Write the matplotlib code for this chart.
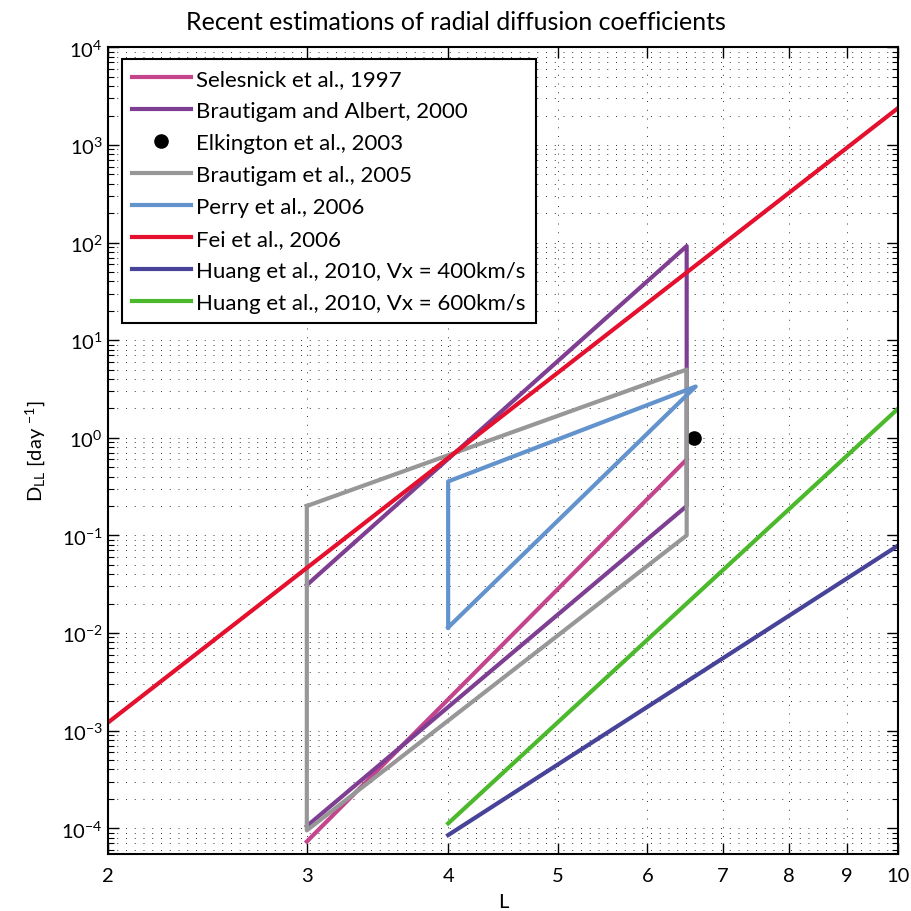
import numpy as np
import matplotlib
matplotlib.use("Agg")
import matplotlib.pyplot as plt
from matplotlib.ticker import FixedLocator, NullLocator, FixedFormatter, NullFormatter

plt.rcParams['font.family'] = ['Lato', 'DejaVu Sans']
plt.rcParams['mathtext.default'] = 'regular'

# series (L, D_LL in 1/day)
selesnick_L = [3.0, 6.5]
selesnick_D = [7.3e-5, 0.6]

albert_L = [3.0, 6.5, 6.5, 3.0]
albert_D = [0.031, 92.0, 0.2, 1.05e-4]

elkington_L = [6.6]
elkington_D = [1.0]

brautigam05_L = [3.0, 6.5, 6.5, 3.0, 3.0]
brautigam05_D = [0.2, 5.0, 0.1, 9.5e-5, 0.2]

perry_L = [4.0, 4.0, 6.62, 4.0]
perry_D = [0.0114, 0.357, 3.35, 0.0114]

fei_L = [2.0, 10.0]
fei_D = [1.2e-3, 2400.0]

huang400_L = [4.0, 10.0]
huang400_D = [8.5e-5, 0.079]

huang600_L = [4.0, 10.0]
huang600_D = [1.12e-4, 2.0]

x_ticks = [2, 3, 4, 5, 6, 7, 8, 9, 10]
y_exps = [-4, -3, -2, -1, 0, 1, 2, 3, 4]

y_lo, y_hi = 5.5e-5, 1e4

fig = plt.figure(figsize=(9.12, 9.12), dpi=100)
ax = fig.add_axes([0.118, 0.063, 0.867, 0.884])

lw = 3
ax.plot(selesnick_L, selesnick_D, color='#c4458c', lw=lw, label='Selesnick et al., 1997')
ax.plot(albert_L, albert_D, color='#7e3e92', lw=lw, label='Brautigam and Albert, 2000')
ax.plot(elkington_L, elkington_D, 'o', color='black', ms=9.5, label='Elkington et al., 2003')
ax.plot(brautigam05_L, brautigam05_D, color='#979797', lw=lw, label='Brautigam et al., 2005')
ax.plot(perry_L, perry_D, color='#6393cc', lw=lw, label='Perry et al., 2006')
ax.plot(fei_L, fei_D, color='#e4102e', lw=lw, label='Fei et al., 2006')
ax.plot(huang400_L, huang400_D, color='#474398', lw=lw, label='Huang et al., 2010, Vx = 400km/s')
ax.plot(huang600_L, huang600_D, color='#4cb92d', lw=lw, label='Huang et al., 2010, Vx = 600km/s')

ax.set_xscale('log')
ax.set_yscale('log')
ax.set_xlim(2, 10)
ax.set_ylim(y_lo, y_hi)

ax.xaxis.set_major_locator(FixedLocator(x_ticks))
ax.xaxis.set_major_formatter(FixedFormatter([str(t) for t in x_ticks]))
ax.xaxis.set_minor_locator(NullLocator())

y_major = [10.0 ** e for e in y_exps]
y_minor = [m * 10.0 ** e for e in range(-5, 4) for m in range(2, 10)]
y_minor = [v for v in y_minor if y_lo <= v <= y_hi]
ax.yaxis.set_major_locator(FixedLocator(y_major))
ax.yaxis.set_major_formatter(FixedFormatter(['$10^{%d}$' % e for e in y_exps]))
ax.yaxis.set_minor_locator(FixedLocator(y_minor))
ax.yaxis.set_minor_formatter(NullFormatter())

ax.tick_params(which='both', direction='in', top=True, right=True, labelsize=14.5)
ax.tick_params(which='major', length=8, width=1)
ax.tick_params(which='minor', length=4, width=0.8)
ax.tick_params(axis='x', pad=10)
for s in ax.spines.values():
    s.set_linewidth(1.5)

ax.grid(True, which='both', color='#333333', linestyle=(0, (1, 8)), linewidth=0.7)

ax.set_xlabel('L', fontsize=14.5, labelpad=6)
ax.set_ylabel('$D_{LL}$ [day $^{-1}$]', fontsize=14.5, labelpad=10)
# title sits centred on the figure, not on the axes
fig.text(0.5, 1 - 30 / 912, 'Recent estimations of radial diffusion coefficients',
         fontsize=18, ha='center', va='baseline')

leg = ax.legend(loc='upper left', fontsize=16, fancybox=False, framealpha=1,
                edgecolor='black', handlelength=2.65, handletextpad=0.25, borderpad=0.45,
                labelspacing=0.54, borderaxespad=0, bbox_to_anchor=(0.018, 0.986))
leg.get_frame().set_linewidth(1.5)

fig.savefig('out.png', dpi=100)
